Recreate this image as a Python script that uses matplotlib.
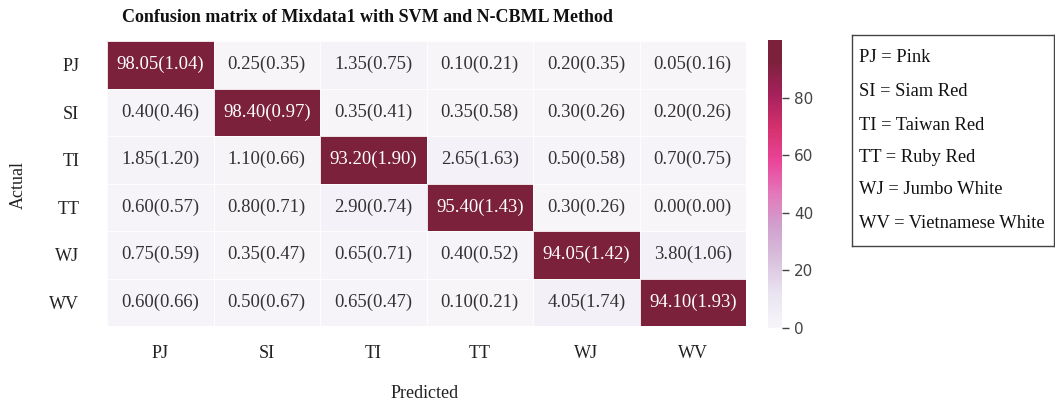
import numpy as np
import matplotlib
matplotlib.use("Agg")
import matplotlib.pyplot as plt
from matplotlib.colors import ListedColormap

labels = ["PJ", "SI", "TI", "TT", "WJ", "WV"]
legend_names = ["Pink", "Siam Red", "Taiwan Red", "Ruby Red", "Jumbo White", "Vietnamese White"]

mean_pct = np.array([
    [98.05, 0.25, 1.35, 0.10, 0.20, 0.05],
    [0.40, 98.40, 0.35, 0.35, 0.30, 0.20],
    [1.85, 1.10, 93.20, 2.65, 0.50, 0.70],
    [0.60, 0.80, 2.90, 95.40, 0.30, 0.00],
    [0.75, 0.35, 0.65, 0.40, 94.05, 3.80],
    [0.60, 0.50, 0.65, 0.10, 4.05, 94.10],
])
std_pct = np.array([
    [1.04, 0.35, 0.75, 0.21, 0.35, 0.16],
    [0.46, 0.97, 0.41, 0.58, 0.26, 0.26],
    [1.20, 0.66, 1.90, 1.63, 0.58, 0.75],
    [0.57, 0.71, 0.74, 1.43, 0.26, 0.00],
    [0.59, 0.47, 0.71, 0.52, 1.42, 1.06],
    [0.66, 0.67, 0.47, 0.21, 1.74, 1.93],
])

serif = ["Liberation Serif", "DejaVu Serif"]
W, H = 1055, 400
fig = plt.figure(figsize=(W / 100, H / 100), dpi=100)

def box(x0, y0, x1, y1):
    return [x0 / W, 1 - y1 / H, (x1 - x0) / W, (y1 - y0) / H]

# PuRd that reaches its darkest shade a little before the top of the scale
base = plt.get_cmap("PuRd")
cmap = ListedColormap(base(np.clip(np.linspace(0, 1, 256) / 0.93, 0, 1)))

ax = fig.add_axes(box(107, 41, 746, 326))
cax = fig.add_axes(box(768, 40, 782, 328))

n = len(labels)
vmax = 100
mesh = ax.pcolormesh(np.arange(n + 1), np.arange(n + 1), mean_pct, cmap=cmap,
                     vmin=0, vmax=vmax, edgecolors="white", linewidth=0.6, alpha=0.87)
ax.set_xlim(0, n)
ax.set_ylim(n, 0)
for s in ax.spines.values():
    s.set_visible(False)

for i in range(n):
    for j in range(n):
        v = mean_pct[i, j]
        color = "white" if v > vmax / 2 else "#333333"
        ax.text(j + 0.5, i + 0.5, f"{v:.2f}({std_pct[i, j]:.2f})", ha="center", va="center",
                fontsize=13.5, color=color, family=serif)

ax.set_xticks(np.arange(n) + 0.5)
ax.set_yticks(np.arange(n) + 0.5)
ax.set_xticklabels(labels, family=serif, fontsize=13, color="#222222")
ax.set_yticklabels(labels, family=serif, fontsize=13, color="#222222", rotation=0)
ax.tick_params(axis="x", length=0, pad=14)
ax.tick_params(axis="y", length=0, pad=20)

cb = fig.colorbar(mesh, cax=cax)
cb.outline.set_visible(False)
cb.set_ticks([0, 20, 40, 60, 80])
cax.tick_params(labelsize=11, colors="#444444", length=5, width=1)
for t in cax.get_yticklabels():
    t.set_family(["DejaVu Sans"])

fig.text(367 / W, 1 - 18 / H, "Confusion matrix of Mixdata1 with SVM and N-CBML Method",
         ha="center", va="center", fontsize=13, fontweight="bold", family=serif, color="#111111")
fig.text(18 / W, 1 - 185 / H, "Actual", rotation=90, ha="center", va="center",
         fontsize=13, family=serif, color="#222222")
fig.text(425 / W, 1 - 393 / H, "Predicted", ha="center", va="center",
         fontsize=13, family=serif, color="#222222")

lax = fig.add_axes(box(852, 35, 1054, 246))
lax.set_xticks([])
lax.set_yticks([])
for s in lax.spines.values():
    s.set_color("#444444")
    s.set_linewidth(1)
line_y = [57, 91, 125, 157, 190, 224]
for code, name, y in zip(labels, legend_names, line_y):
    lax.text((859 - 852) / 202, 1 - (y - 35) / 211, f"{code} = {name}", transform=lax.transAxes,
             ha="left", va="center", fontsize=13.3, family=serif, color="#111111")

fig.savefig("out.png", dpi=100)
